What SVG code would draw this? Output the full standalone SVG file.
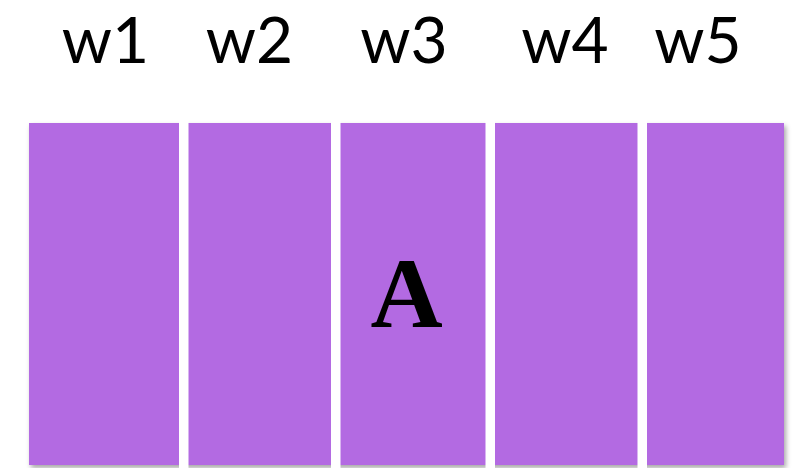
<svg xmlns="http://www.w3.org/2000/svg" width="799" height="468" viewBox="0 0 799 468">
  <defs>
    <filter id="shadow" x="-5%" y="-5%" width="110%" height="115%">
      <feDropShadow dx="2" dy="3" stdDeviation="2.5" flood-color="#000" flood-opacity="0.35"/>
    </filter>
    <style>
      .label { font-family: "Lato", "Open Sans", "Liberation Sans", sans-serif; font-size: 64px; fill: #000; text-anchor: middle; }
      .gap { fill: #ffffff; }
      .big { font-family: "Liberation Serif", "DejaVu Serif", serif; font-weight: bold; font-size: 100px; fill: #000; text-anchor: middle; }
    </style>
  </defs>
  <rect width="799" height="468" fill="#ffffff"/>
  <g id="panel">
    <rect x="29" y="123" width="755" height="342" fill="#b36ae2" filter="url(#shadow)"/>
  </g>
  <g id="connectors">
    <rect class="gap" x="179" y="120" width="9.5" height="348"/>
    <rect class="gap" x="331" y="120" width="9.5" height="348"/>
    <rect class="gap" x="485.5" y="120" width="9.5" height="348"/>
    <rect class="gap" x="637.5" y="120" width="9.5" height="348"/>
  </g>
  <g id="w1"><text class="label" x="105.5" y="63">w1</text></g>
  <g id="w2"><text class="label" x="249.5" y="63">w2</text></g>
  <g id="w3"><text class="label" x="404" y="63">w3</text>
    <text class="big" x="406.5" y="327">A</text></g>
  <g id="w4"><text class="label" x="565" y="63">w4</text></g>
  <g id="w5"><text class="label" x="698" y="63">w5</text></g>
</svg>
